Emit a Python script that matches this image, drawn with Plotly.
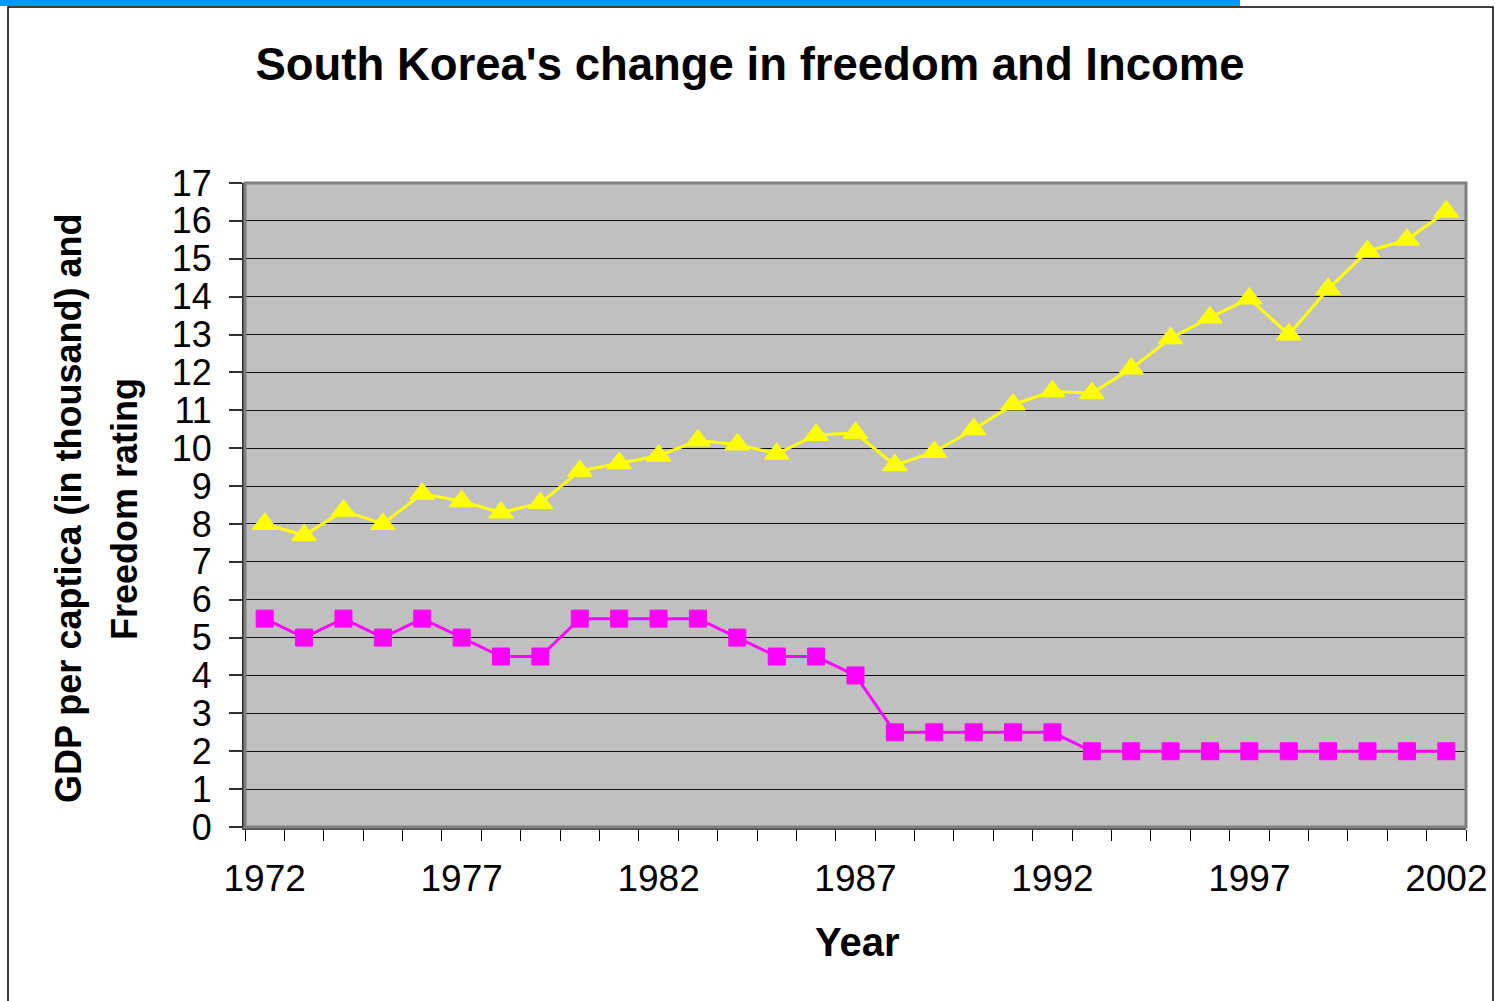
import plotly.graph_objects as go

years = list(range(1972, 2003))
gdp = [8.0, 7.7, 8.35, 8.0, 8.8, 8.6, 8.3, 8.55, 9.4, 9.6,
       9.8, 10.2, 10.1, 9.85, 10.35, 10.4, 9.55, 9.9, 10.5, 11.15,
       11.5, 11.45, 12.1, 12.9, 13.45, 13.95, 13.0, 14.2, 15.2, 15.5, 16.25]
freedom = [5.5, 5, 5.5, 5, 5.5, 5, 4.5, 4.5, 5.5, 5.5,
           5.5, 5.5, 5, 4.5, 4.5, 4, 2.5, 2.5, 2.5, 2.5,
           2.5, 2, 2, 2, 2, 2, 2, 2, 2, 2, 2]
xtick_years = [1972, 1977, 1982, 1987, 1992, 1997, 2002]
ytick_vals = list(range(0, 18))

FONT = "Arial, Liberation Sans, sans-serif"
W, H = 1495, 1001
L, R, T, B = 245, 1466, 183, 827
pw, ph = R - L, B - T

def px(xp):
    return (xp - L) / pw

def py(yp):
    return (B - yp) / ph

fig = go.Figure()
fig.add_trace(go.Scatter(
    x=years, y=gdp, mode="lines+markers",
    line=dict(color="#FFFF00", width=3),
    marker=dict(symbol="triangle-up", size=21, color="#FFFF00",
                line=dict(color="#FFFF00", width=1.5)),
    showlegend=False))
fig.add_trace(go.Scatter(
    x=years, y=freedom, mode="lines+markers",
    line=dict(color="#FF00FF", width=3),
    marker=dict(symbol="square", size=17, color="#FF00FF",
                line=dict(color="#FF00FF", width=1)),
    showlegend=False))

fig.update_layout(
    width=W, height=H,
    margin=dict(l=L, r=W - R, t=T, b=H - B, autoexpand=False),
    paper_bgcolor="white", plot_bgcolor="#C0C0C0",
    font=dict(family=FONT, color="black"),
    title=dict(text="<b>South Korea's change in freedom and Income</b>",
               x=750 / W, xanchor="center", y=1 - 64 / H, yanchor="middle",
               xref="container", yref="container",
               font=dict(size=45.5, family=FONT, color="black")),
    xaxis=dict(range=[1971.5, 2002.5], tickmode="array", tickvals=xtick_years,
               ticktext=[str(v) for v in xtick_years], ticks="",
               ticklabelstandoff=17,
               tickfont=dict(size=37, family=FONT, color="black"),
               showgrid=False, zeroline=False,
               showline=True, linecolor="#505050", linewidth=3,
               minor=dict(tickmode="linear", tick0=1971.5, dtick=1,
                          ticks="outside", ticklen=11, tickcolor="black",
                          tickwidth=1, showgrid=False)),
    yaxis=dict(range=[0, 17], tickmode="array", tickvals=ytick_vals,
               ticks="outside", ticklen=13, tickcolor="#303030", tickwidth=2,
               ticklabelstandoff=10,
               tickfont=dict(size=36, family=FONT, color="black"),
               showgrid=True, gridcolor="#111111", gridwidth=1,
               zeroline=False, showline=True, linecolor="#303030", linewidth=3),
    shapes=[
        dict(type="rect", xref="paper", yref="paper", x0=0, x1=1, y0=0, y1=1,
             line=dict(color="#808080", width=3), layer="above"),
        dict(type="rect", xref="paper", yref="paper",
             x0=px(8), x1=px(1493), y0=py(1010), y1=py(7),
             line=dict(color="black", width=1.5), fillcolor="rgba(0,0,0,0)"),
        dict(type="rect", xref="paper", yref="paper",
             x0=px(0), x1=px(1240), y0=py(6), y1=py(0),
             line=dict(width=0), fillcolor="#0A96FF"),
    ],
    annotations=[
        dict(text="<b>GDP per captica (in thousand) and</b>", xref="paper", yref="paper",
             x=px(68), y=py(509), textangle=-90, showarrow=False,
             xanchor="center", yanchor="middle",
             font=dict(size=36, family=FONT, color="black")),
        dict(text="<b>Freedom rating</b>", xref="paper", yref="paper",
             x=px(124), y=py(509), textangle=-90, showarrow=False,
             xanchor="center", yanchor="middle",
             font=dict(size=36, family=FONT, color="black")),
        dict(text="<b>Year</b>", xref="paper", yref="paper",
             x=px(857), y=py(942), showarrow=False,
             xanchor="center", yanchor="middle",
             font=dict(size=40, family=FONT, color="black")),
    ],
)

fig.write_html("out.html", config={"displayModeBar": False},
               post_script="document.body.style.margin='0';document.body.style.overflow='hidden';")
